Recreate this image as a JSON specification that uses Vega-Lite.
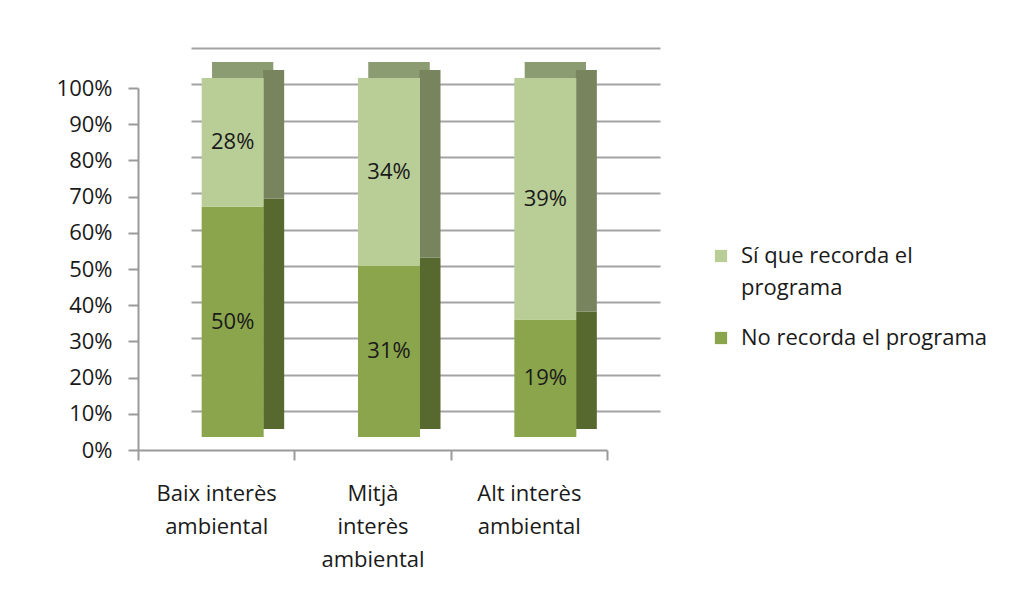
{
  "$schema": "https://vega.github.io/schema/vega-lite/v6.json",
  "width": 522,
  "height": 402,
  "autosize": {"type": "none"},
  "padding": {"left": 138, "top": 48, "right": 375, "bottom": 155},
  "background": "white",
  "config": {
    "view": {"stroke": null},
    "font": "Open Sans",
    "axis": {"labelFont": "Open Sans", "labelColor": "#1a1a1a", "labelFontSize": 22},
    "style": {"guide-label": {"lineHeight": 32}}
  },
  "data": {
    "values": [
      {"cat": "Baix interès ambiental", "serie": "No recorda el programa", "ord": 1, "value": 50},
      {"cat": "Baix interès ambiental", "serie": "Sí que recorda el programa", "ord": 2, "value": 28},
      {"cat": "Mitjà interès ambiental", "serie": "No recorda el programa", "ord": 1, "value": 31},
      {"cat": "Mitjà interès ambiental", "serie": "Sí que recorda el programa", "ord": 2, "value": 34},
      {"cat": "Alt interès ambiental", "serie": "No recorda el programa", "ord": 1, "value": 19},
      {"cat": "Alt interès ambiental", "serie": "Sí que recorda el programa", "ord": 2, "value": 39}
    ]
  },
  "transform": [
    {"stack": "value", "groupby": ["cat"], "sort": [{"field": "ord", "order": "ascending"}], "offset": "normalize", "as": ["y0", "y1"]},
    {"calculate": "(datum.y0 + datum.y1) / 2", "as": "ymid"},
    {"calculate": "datum.value + '%'", "as": "lab"}
  ],
  "encoding": {
    "x": {
      "field": "cat",
      "type": "nominal",
      "sort": ["Baix interès ambiental", "Mitjà interès ambiental", "Alt interès ambiental"],
      "scale": {"range": [0, 469], "paddingInner": 0, "paddingOuter": 0},
      "axis": {
        "title": null,
        "labelAngle": 0,
        "tickBand": "extent",
        "domainColor": "#9a9a9a",
        "domainWidth": 2,
        "tickColor": "#9a9a9a",
        "tickWidth": 2,
        "tickSize": 10,
        "labelPadding": 23,
        "labelLineHeight": 33,
        "labelBaseline": "top",
        "labelExpr": "datum.value == 'Baix interès ambiental' ? ['Baix interès', 'ambiental'] : datum.value == 'Mitjà interès ambiental' ? ['Mitjà', 'interès', 'ambiental'] : datum.value == 'Alt interès ambiental' ? ['Alt interès', 'ambiental'] : ''"
      }
    }
  },
  "layer": [
    {
      "mark": {"type": "rule", "opacity": 0},
      "encoding": {
        "y": {"datum": 0, "type": "quantitative", "scale": {"domain": [0, 1], "range": [363, 0]},
          "axis": {"orient": "right", "labels": false, "ticks": false, "domain": false, "title": null,
            "values": [0, 0.1, 0.2, 0.3, 0.4, 0.5, 0.6, 0.7, 0.8, 0.9, 1],
            "grid": true, "gridColor": "#a3a3a3", "gridWidth": 2}}
      }
    },
    {
      "mark": {"type": "rule", "opacity": 0},
      "encoding": {
        "y": {"datum": 0, "type": "quantitative", "scale": {"domain": [0, 1], "range": [402, 40]},
          "axis": {"orient": "left", "title": null, "format": ".0%", "grid": false,
            "values": [0, 0.1, 0.2, 0.3, 0.4, 0.5, 0.6, 0.7, 0.8, 0.9, 1],
            "domainColor": "#9a9a9a", "domainWidth": 2, "tickColor": "#9a9a9a", "tickWidth": 2, "tickSize": 10,
            "labelPadding": 16}}
      }
    },
    {
      "mark": {"type": "bar", "width": 61, "xOffset": 26.5, "yOffset": -16, "y2Offset": 0, "color": "#8c9c72"},
      "encoding": {
        "y": {"datum": 1, "type": "quantitative", "scale": {"domain": [0, 1], "range": [389, 30]}, "axis": null},
        "y2": {"datum": 1}
      }
    },
    {
      "mark": {"type": "bar", "width": 21, "xOffset": 57.5, "yOffset": -8, "y2Offset": -8},
      "encoding": {
        "y": {"field": "y1", "type": "quantitative", "scale": {"domain": [0, 1], "range": [389, 30]}, "axis": null},
        "y2": {"field": "y0"},
        "color": {"field": "serie", "type": "nominal",
          "scale": {"domain": ["Sí que recorda el programa", "No recorda el programa"], "range": ["#77845d", "#57692e"]},
          "legend": null}
      }
    },
    {
      "mark": {"type": "bar", "width": 62, "xOffset": 16.5},
      "encoding": {
        "y": {"field": "y1", "type": "quantitative", "scale": {"domain": [0, 1], "range": [389, 30]}, "axis": null},
        "y2": {"field": "y0"},
        "color": {"field": "serie", "type": "nominal",
          "scale": {"domain": ["Sí que recorda el programa", "No recorda el programa"], "range": ["#b9cd96", "#8aa54c"]},
          "legend": {
            "title": null, "orient": "none", "legendX": 572, "legendY": 197,
            "symbolType": "square", "symbolSize": 150, "symbolStrokeWidth": 0, "symbolOpacity": 1,
            "labelFont": "Open Sans", "labelFontSize": 22, "labelColor": "#1a1a1a", "labelLimit": 400,
            "labelBaseline": "middle", "labelOffset": 9, "rowPadding": 28,
            "labelExpr": "datum.label == 'Sí que recorda el programa' ? ['Sí que recorda el', 'programa'] : datum.label"
          }}
      }
    },
    {
      "mark": {"type": "text", "xOffset": 16.5, "font": "Open Sans", "fontSize": 22, "color": "#1a1a1a"},
      "encoding": {
        "y": {"field": "ymid", "type": "quantitative", "scale": {"domain": [0, 1], "range": [389, 30]}, "axis": null},
        "text": {"field": "lab"}
      }
    }
  ],
  "resolve": {"scale": {"y": "independent", "color": "independent"}, "axis": {"y": "independent"}}
}
